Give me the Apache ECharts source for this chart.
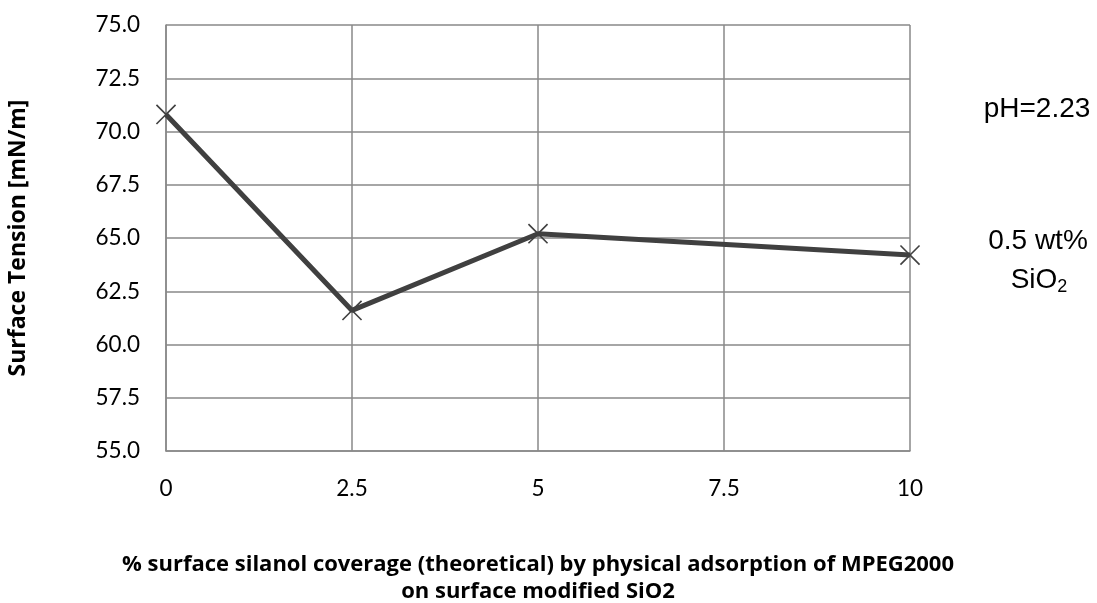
<!DOCTYPE html>
<html>
<head>
<meta charset="utf-8">
<script src="https://cdn.jsdelivr.net/npm/echarts@6/dist/echarts.min.js"></script>
<style>
  html, body { margin: 0; padding: 0; background: #fff; overflow: hidden; }
  #chart { width: 1097px; height: 603px; }
</style>
</head>
<body>
<div id="chart"></div>
<script>
// Surface silanol coverage (%) and measured surface tension (mN/m)
const coverage = [0, 2.5, 5, 10];
const surfaceTension = [70.8, 61.6, 65.2, 64.2];
const xTicks = [0, 2.5, 5, 7.5, 10];
const yRange = { min: 55, max: 75, step: 2.5 };

const xTitle = '% surface silanol coverage (theoretical) by physical adsorption of MPEG2000\non surface modified SiO2';
const yTitle = 'Surface Tension [mN/m]';

const points = coverage.map((c, i) => [c, surfaceTension[i]]);

// thin "×" marker: a plus shape rotated by 45 degrees
const crossPath = 'path://M47,0 L53,0 L53,47 L100,47 L100,53 L53,53 L53,100 L47,100 L47,53 L0,53 L0,47 L47,47 Z';

const tickFont = 'Lato, "Open Sans", sans-serif';
const titleFont = '"Open Sans", Lato, sans-serif';
const noteFont = '"Liberation Sans", Arial, sans-serif';

const chart = echarts.init(document.getElementById('chart'));
chart.setOption({
  animation: false,
  backgroundColor: '#ffffff',
  grid: {
    left: 166, right: 187, top: 25, bottom: 152,
    containLabel: false,
    outerBoundsMode: 'none'
  },
  xAxis: {
    type: 'value',
    min: xTicks[0],
    max: xTicks[xTicks.length - 1],
    interval: 2.5,
    axisLine: { show: true, lineStyle: { color: '#898989', width: 1.5 } },
    axisTick: { show: false },
    splitLine: { show: true, lineStyle: { color: '#898989', width: 1.5 } },
    axisLabel: {
      margin: 26,
      fontFamily: tickFont,
      fontSize: 22.5,
      color: '#000',
      formatter: v => String(v)
    },
    name: xTitle,
    nameLocation: 'middle',
    nameGap: 100,
    nameTextStyle: {
      fontFamily: titleFont,
      fontWeight: 'bold',
      fontSize: 22,
      color: '#000',
      lineHeight: 27
    }
  },
  yAxis: {
    type: 'value',
    min: yRange.min,
    max: yRange.max,
    interval: yRange.step,
    axisLine: { show: true, lineStyle: { color: '#898989', width: 1.5 } },
    axisTick: { show: false },
    splitLine: { show: true, lineStyle: { color: '#898989', width: 1.5 } },
    axisLabel: {
      margin: 26,
      fontFamily: tickFont,
      fontSize: 22.5,
      color: '#000',
      formatter: v => v.toFixed(1)
    },
    name: yTitle,
    nameLocation: 'middle',
    nameGap: 136,
    nameTextStyle: {
      fontFamily: titleFont,
      fontWeight: 'bold',
      fontSize: 23,
      color: '#000'
    }
  },
  series: [{
    type: 'line',
    data: points,
    lineStyle: { color: '#404040', width: 5 },
    itemStyle: { color: '#404040' },
    symbol: crossPath,
    symbolSize: 27,
    symbolRotate: 45,
    showAllSymbol: true,
    z: 5
  }],
  graphic: [
    {
      type: 'text',
      x: 1037,
      y: 109,
      style: {
        text: 'pH=2.23',
        fontFamily: noteFont,
        fontSize: 28,
        fill: '#000',
        align: 'center',
        verticalAlign: 'middle'
      }
    },
    {
      type: 'text',
      x: 1038,
      y: 241,
      style: {
        text: '0.5 wt%',
        fontFamily: noteFont,
        fontSize: 28,
        fill: '#000',
        align: 'center',
        verticalAlign: 'middle'
      }
    },
    {
      type: 'text',
      x: 1039,
      y: 280,
      style: {
        text: '{a|SiO}{b|2}',
        align: 'center',
        verticalAlign: 'middle',
        rich: {
          a: { fontFamily: noteFont, fontSize: 28, color: '#000' },
          b: { fontFamily: noteFont, fontSize: 18, color: '#000', padding: [14, 0, 0, 0] }
        }
      }
    }
  ]
});
</script>
</body>
</html>
